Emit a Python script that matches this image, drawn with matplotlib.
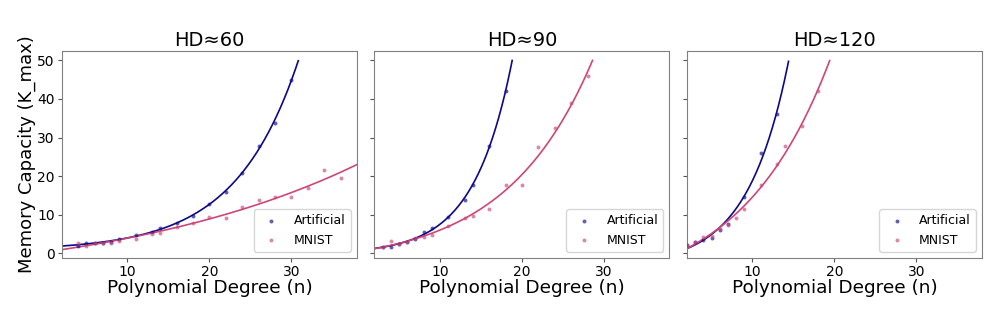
import numpy as np
import matplotlib
matplotlib.use('Agg')
import matplotlib.pyplot as plt

# values
titles = ['HD\u224860', 'HD\u224890', 'HD\u2248120']

art_x = [
    [4, 5, 6, 7, 8, 9, 11, 13, 14, 16, 18, 20, 22, 24, 26, 28, 30],
    [3, 4, 5, 6, 7, 8, 9, 11, 13, 14, 16, 18],
    [2, 3, 4, 5, 6, 7, 9, 11, 13],
]
art_y = [
    [1.8, 2.8, 2.8, 2.8, 3.0, 3.6, 4.7, 5.6, 6.5, 7.8, 9.8, 12.8, 15.8, 20.9, 27.8, 33.9, 45.0],
    [1.6, 1.6, 2.5, 3.0, 3.7, 5.6, 6.5, 9.5, 13.7, 17.7, 27.7, 42.0],
    [2.1, 2.9, 3.4, 4.1, 6.1, 7.6, 14.7, 26.0, 36.0],
]

mnist_x = [
    [4, 5, 6, 7, 8, 9, 11, 13, 14, 16, 18, 20, 22, 24, 26, 28, 30, 32, 34, 36],
    [3, 4, 5, 6, 7, 8, 9, 11, 13, 14, 16, 18, 20, 22, 24, 26, 28],
    [2, 3, 4, 5, 6, 7, 8, 9, 11, 13, 14, 16, 18],
]
mnist_y = [
    [2.8, 1.8, 2.6, 2.8, 2.8, 3.2, 3.6, 5.1, 5.3, 6.7, 7.8, 9.3, 9.1, 11.9, 13.8, 14.7, 14.7, 16.9, 21.5, 19.4],
    [1.6, 3.3, 2.5, 3.0, 4.0, 4.2, 4.8, 7.1, 9.1, 9.6, 11.5, 17.6, 17.6, 27.5, 32.4, 38.9, 45.9],
    [2.2, 2.9, 4.2, 4.5, 6.3, 7.4, 9.2, 11.6, 17.7, 23.2, 27.8, 33.0, 42.0],
]

blue = plt.cm.plasma(0.0)
pink = plt.cm.plasma(0.5)
y_cap = 50


def fit_curve(x, y, grid):
    # least squares fit of a + b*exp(c*x), scanning c
    x = np.asarray(x, float)
    y = np.asarray(y, float)
    best = None
    for c in np.linspace(0.005, 0.5, 1000):
        A = np.column_stack([np.ones_like(x), np.exp(c * x)])
        coef = np.linalg.lstsq(A, y, rcond=None)[0]
        err = np.sum((A @ coef - y) ** 2)
        if best is None or err < best[0]:
            best = (err, c, coef)
    _, c, (a, b) = best
    yy = a + b * np.exp(c * grid)
    over = np.nonzero(yy > y_cap)[0]
    if len(over):
        yy[over[0]:] = np.nan
    return yy


fig, axes = plt.subplots(1, 3, figsize=(9.97, 3.32), dpi=100, sharey=True)
fig.subplots_adjust(left=0.062, right=0.985, bottom=0.223, top=0.846, wspace=0.059)

grid = np.linspace(2, 38, 1500)

for i, ax in enumerate(axes):
    ax.scatter(art_x[i], art_y[i], s=8, color=blue, alpha=0.65, lw=0, label='Artificial', zorder=3)
    ax.scatter(mnist_x[i], mnist_y[i], s=8, color=pink, alpha=0.65, lw=0, label='MNIST', zorder=3)
    ax.plot(grid, fit_curve(art_x[i], art_y[i], grid), color=blue, lw=1.2)
    ax.plot(grid, fit_curve(mnist_x[i], mnist_y[i], grid), color=pink, lw=1.2)

    ax.set_xlim(2, 38)
    ax.set_ylim(-1.2, 52.4)
    ax.set_xticks([10, 20, 30])
    ax.set_yticks([0, 10, 20, 30, 40, 50])
    ax.tick_params(labelsize=10, length=3, pad=2, color='#555555')
    ax.set_title(titles[i], fontsize=14, pad=4)
    ax.set_xlabel('Polynomial Degree (n)', fontsize=13.3, labelpad=0)
    for sp in ax.spines.values():
        sp.set_edgecolor('#808080')
    ax.legend(loc='lower right', fontsize=9)

axes[0].set_ylabel('Memory Capacity (K_max)', fontsize=13, labelpad=1)

fig.savefig('out.png', dpi=100)
